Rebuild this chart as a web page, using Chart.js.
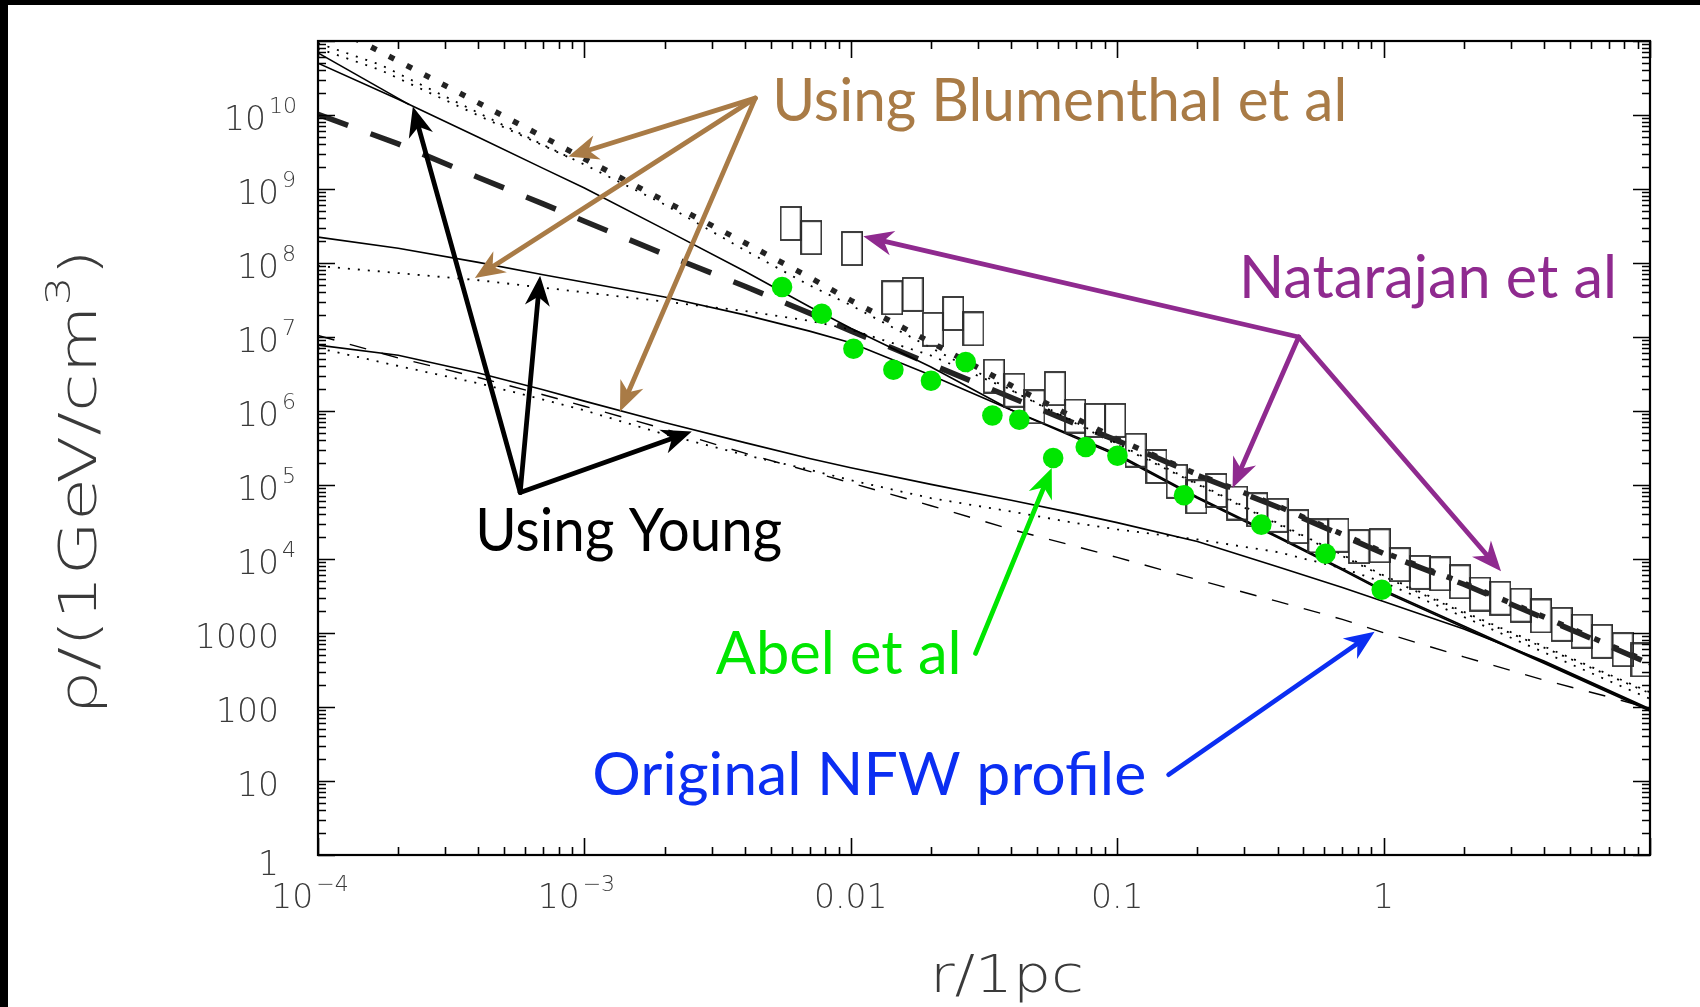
<!DOCTYPE html>
<html>
<head>
<meta charset="utf-8">
<title>Dark matter density profiles</title>
<script src="https://cdn.jsdelivr.net/npm/chart.js@4.4.1/dist/chart.umd.min.js"></script>
<style>
  html, body { margin: 0; padding: 0; background: #fff; }
  #wrap { width: 1700px; height: 1007px; position: relative; }
</style>
</head>
<body>
<div id="wrap"><canvas id="c" width="1700" height="1007"></canvas></div>
<script>
// ---------- data: radius r [pc] and density rho [GeV/cm^3] ----------
const rGrid = [1e-4, 2e-4, 4e-4, 7e-4, 1e-3, 2e-3, 4e-3, 7e-3, 0.01, 0.02, 0.04, 0.07, 0.1, 0.2, 0.4, 0.7, 1, 2, 4, 7, 10];

// adiabatic contraction, Young method (solid)
const youngHiRho  = [5.01e10, 1.63e10, 4.99e9, 1.90e9, 1.03e9, 2.85e8, 7.73e7, 2.56e7, 1.31e7, 3.94e6, 1.03e6, 4.50e5, 2.63e5, 6.87e4, 2.03e4, 7.40e3, 3.80e3, 1.24e3, 403, 163, 91.2];
const youngHi2R   = [1e-4, 2.2e-4];
const youngHi2Rho = [6.9e10, 1.38e10];
const youngMidRho = [2.24e8, 1.58e8, 1.02e8, 6.95e7, 5.50e7, 3.48e7, 1.99e7, 1.20e7, 8.34e6, 3.04e6, 1.03e6, 4.30e5, 2.51e5, 6.61e4, 1.95e4, 7.08e3, 3.63e3, 1.19e3, 389, 157, 88.1];
const youngLoRho  = [7.76e6, 5.68e6, 3.27e6, 1.94e6, 1.36e6, 6.98e5, 3.74e5, 2.28e5, 1.71e5, 1.02e5, 6.22e4, 4.10e4, 3.10e4, 1.72e4, 7.83e3, 4.11e3, 2.67e3, 1.13e3, 417, 168, 94.4];

// adiabatic contraction, Blumenthal method (dotted)
const blumHiR     = [1e-4, 1.71e-4, 2e-4, 4e-4, 7e-4, 1e-3, 2e-3, 4e-3, 7e-3, 0.01, 0.02, 0.04, 0.07, 0.1, 0.2, 0.4, 0.7, 1, 2, 4, 7, 10];
const blumHiRho   = [9.33e10, 4.79e10, 3.64e10, 1.07e10, 3.95e9, 2.14e9, 6.17e8, 1.49e8, 4.99e7, 2.69e7, 7.16e6, 1.92e6, 7.01e5, 3.61e5, 1.05e5, 3.07e4, 1.14e4, 6.01e3, 1.93e3, 658, 276, 158];
const blumHi2R    = [1e-4, 1.71e-4, 5e-4, 8.63e-4];
const blumHi2Rho  = [7.94e10, 4.07e10, 6.79e9, 2.73e9];
const blumMidRho  = [9.12e7, 7.31e7, 5.85e7, 4.65e7, 4.01e7, 3.01e7, 2.25e7, 1.66e7, 1.26e7, 5.62e6, 1.91e6, 6.78e5, 3.48e5, 1.02e5, 2.96e4, 1.10e4, 5.81e3, 1.86e3, 635, 267, 153];
const blumLoRho   = [7.08e6, 4.06e6, 2.37e6, 1.43e6, 1.02e6, 4.84e5, 2.55e5, 1.61e5, 1.16e5, 6.64e4, 4.38e4, 3.05e4, 2.51e4, 1.84e4, 1.24e4, 7.52e3, 4.83e3, 1.65e3, 547, 226, 129];

// original NFW profile (thin dashed)
const nfwRho      = [1.05e7, 5.22e6, 2.84e6, 1.66e6, 1.16e6, 5.71e5, 2.69e5, 1.53e5, 1.07e5, 5.25e4, 2.51e4, 1.48e4, 1.05e4, 5.26e3, 2.67e3, 1.53e3, 1.01e3, 476, 231, 137, 95.5];

// Natarajan et al model curves (thick dashed / thick dotted)
const thickDashRho = [1.02e10, 4.07e9, 1.43e9, 6.30e8, 3.67e8, 1.31e8, 4.85e7, 2.10e7, 1.21e7, 4.28e6, 1.52e6, 6.68e5, 3.98e5, 1.35e5, 5.05e4, 2.08e4, 1.19e4, 4.55e3, 1.59e3, 670, 384];
const thickDotRho  = [1.97e11, 5.36e10, 1.46e10, 5.08e9, 2.56e9, 6.90e8, 1.88e8, 6.41e7, 3.13e7, 8.47e6, 2.21e6, 7.93e5, 4.17e5, 1.39e5, 5.22e4, 2.16e4, 1.23e4, 4.71e3, 1.65e3, 693, 397];

// Natarajan et al binned profile (open boxes)
const boxR   = [0.00594, 0.00710, 0.01009, 0.01429, 0.01706, 0.02032, 0.02421, 0.02884, 0.03443, 0.04111, 0.04887, 0.05834, 0.06950, 0.08260, 0.09817, 0.1172, 0.1403, 0.1671, 0.1982, 0.2355, 0.2818, 0.3350, 0.3999, 0.4775, 0.5689, 0.6761, 0.8072, 0.9661, 1.148, 1.368, 1.629, 1.932, 2.301, 2.742, 3.266, 3.890, 4.656, 5.534, 6.592, 7.889, 9.290];
const boxRho = [3.42e8, 2.20e8, 1.57e8, 3.39e7, 3.76e7, 1.27e7, 2.08e7, 1.29e7, 2.96e6, 1.91e6, 1.14e6, 2.01e6, 8.55e5, 7.46e5, 7.46e5, 2.95e5, 1.78e5, 1.12e5, 6.95e4, 8.43e4, 5.71e4, 4.63e4, 3.89e4, 2.74e4, 2.05e4, 2.09e4, 1.47e4, 1.51e4, 8.38e3, 6.59e3, 6.30e3, 4.92e3, 3.36e3, 2.95e3, 2.38e3, 1.70e3, 1.31e3, 1.06e3, 771, 596, 433];

// Abel et al simulation points (green)
const abelR   = [0.00552, 0.00778, 0.01023, 0.01445, 0.0200, 0.0270, 0.0340, 0.0429, 0.0575, 0.0762, 0.1002, 0.1782, 0.3475, 0.6053, 0.984];
const abelRho = [4.73e7, 2.06e7, 6.93e6, 3.61e6, 2.56e6, 4.59e6, 8.71e5, 7.62e5, 2.32e5, 3.26e5, 2.49e5, 7.28e4, 2.91e4, 1.18e4, 3.85e3];

// tick labels
const xLabelValues = [1e-4, 1e-3, 0.01, 0.1, 1];
const xLabelTexts  = [['10', '\u22124'], ['10', '\u22123'], ['0.01', ''], ['0.1', ''], ['1', '']];
const yLabelValues = [1, 10, 100, 1000, 1e4, 1e5, 1e6, 1e7, 1e8, 1e9, 1e10];
const yLabelTexts  = [['1', ''], ['10', ''], ['100', ''], ['1000', ''], ['10', '4'], ['10', '5'], ['10', '6'], ['10', '7'], ['10', '8'], ['10', '9'], ['10', '10']];

// annotations: label text and arrows, placed in data coordinates
const BROWN = '#a97b46', PURPLE = '#8f2a8f', GREEN = '#00e600', BLUE = '#0b2ef2';
const noteTexts = [
  { text: 'Using Blumenthal et al', color: BROWN,  at: [5.07e-3, 8.32e9], width: 575 },
  { text: 'Using Young',            color: '#000', at: [3.89e-4, 1.27e4], width: 307 },
  { text: 'Abel et al',             color: GREEN,  at: [3.11e-3, 282],    width: 246 },
  { text: 'Natarajan et al',        color: PURPLE, at: [0.2864, 3.39e7],  width: 378 },
  { text: 'Original NFW profile',   color: BLUE,   at: [1.07e-3, 6.55],   width: 554 }
];
const noteArrows = [
  { color: BROWN,  from: [4.38e-3, 1.69e10], to: [8.71e-4, 2.75e9] },
  { color: BROWN,  from: [4.38e-3, 1.69e10], to: [3.88e-4, 6.27e7] },
  { color: BROWN,  from: [4.38e-3, 1.69e10], to: [1.36e-3, 9.86e5] },
  { color: '#000', from: [5.74e-4, 7.94e4],  to: [2.27e-4, 1.30e10] },
  { color: '#000', from: [5.74e-4, 7.94e4],  to: [6.82e-4, 6.73e7] },
  { color: '#000', from: [5.74e-4, 7.94e4],  to: [2.53e-3, 5.30e5] },
  { color: GREEN,  from: [0.0294, 530],      to: [0.0568, 1.70e5] },
  { color: PURPLE, from: [0.480, 1.0e7],     to: [0.01114, 2.29e8] },
  { color: PURPLE, from: [0.480, 1.0e7],     to: [0.271, 9.12e4] },
  { color: PURPLE, from: [0.480, 1.0e7],     to: [2.76, 6.81e3] },
  { color: BLUE,   from: [0.156, 12.2],      to: [0.925, 1042] }
];

// ---------- helpers ----------
const pts = (xs, ys) => xs.map((x, i) => ({ x: x, y: ys[i] }));

function lineSet(label, xs, ys, style) {
  return Object.assign({
    label: label, type: 'scatter', data: pts(xs, ys), showLine: true,
    pointRadius: 0, borderColor: '#000', borderWidth: 1.6, tension: 0,
    clip: 0, order: 5, fill: false, borderCapStyle: 'butt'
  }, style);
}

// open rectangle used for each binned point
const boxGlyph = (() => {
  const c = document.createElement('canvas');
  c.width = 22; c.height = 35;
  const g = c.getContext('2d');
  g.strokeStyle = '#2b2b2b'; g.lineWidth = 1.8;
  g.strokeRect(1, 1, 20.3, 33);
  return c;
})();

function decadeTicks(min, max) {
  const out = [];
  for (let e = Math.round(Math.log10(min)); Math.pow(10, e) <= max * 1.0001; e++) {
    for (let m = 1; m < 10; m++) {
      const v = m * Math.pow(10, e);
      if (v >= min * 0.9999 && v <= max * 1.0001) out.push({ v: v, major: m === 1 });
    }
  }
  return out;
}

const AXIS_FONT = '"DejaVu Sans", sans-serif';
const AXIS_COLOR = '#3a3a3a';

// number with optional superscript; 'anchor' is the x the label hangs from
function drawPower(ctx, base, exp, x, yMid, mode) {
  ctx.save();
  ctx.fillStyle = AXIS_COLOR;
  ctx.textBaseline = 'alphabetic';
  ctx.textAlign = 'left';
  ctx.font = '200 33px ' + AXIS_FONT;
  const wb = ctx.measureText(base).width;
  ctx.font = '200 22px ' + AXIS_FONT;
  const we = exp ? ctx.measureText(exp).width + 3 : 0;
  let x0;
  if (mode === 'baseRight') x0 = x - wb;          // base ends at x, exponent hangs beyond
  else if (mode === 'right') x0 = x - wb - we;    // whole label ends at x
  else x0 = x - (wb + we) / 2;                    // centred
  const baseY = yMid + 12;
  ctx.font = '200 33px ' + AXIS_FONT;
  ctx.fillText(base, x0, baseY);
  if (exp) {
    ctx.font = '200 22px ' + AXIS_FONT;
    ctx.fillText(exp, x0 + wb + 3, baseY - 17);
  }
  ctx.restore();
}

function drawArrow(ctx, x0, y0, x1, y1, color) {
  const ang = Math.atan2(y1 - y0, x1 - x0);
  const L = 30, H = 12.5, N = 21;
  ctx.save();
  ctx.strokeStyle = color; ctx.fillStyle = color;
  ctx.lineWidth = 4.8; ctx.lineCap = 'round';
  ctx.beginPath();
  ctx.moveTo(x0, y0);
  ctx.lineTo(x1 - Math.cos(ang) * N, y1 - Math.sin(ang) * N);
  ctx.stroke();
  ctx.translate(x1, y1); ctx.rotate(ang);
  ctx.beginPath();
  ctx.moveTo(0, 0); ctx.lineTo(-L, -H); ctx.lineTo(-N, 0); ctx.lineTo(-L, H);
  ctx.closePath(); ctx.fill();
  ctx.restore();
}

function drawFitted(ctx, text, x, y, font, targetW) {
  ctx.font = font;
  const w = ctx.measureText(text).width;
  const s = targetW ? targetW / w : 1;
  ctx.save(); ctx.translate(x, y); ctx.scale(s, 1);
  ctx.textAlign = 'left'; ctx.textBaseline = 'alphabetic';
  ctx.fillText(text, 0, 0);
  ctx.restore();
}

// segments: [text, isSuperscript]
function drawSegments(ctx, segs, size, supSize, targetW) {
  const widths = segs.map(s => { ctx.font = '200 ' + (s[1] ? supSize : size) + 'px ' + AXIS_FONT; return ctx.measureText(s[0]).width; });
  const total = widths.reduce((a, b) => a + b, 0);
  const sc = targetW / total;
  ctx.save(); ctx.scale(sc, 1);
  let x = -total / 2;
  segs.forEach((s, i) => {
    ctx.font = '200 ' + (s[1] ? supSize : size) + 'px ' + AXIS_FONT;
    ctx.fillText(s[0], x, s[1] ? -size * 0.5 : 0);
    x += widths[i];
  });
  ctx.restore();
}

const decor = {
  id: 'decor',
  beforeDraw(chart) {
    const ctx = chart.ctx;
    ctx.save();
    ctx.fillStyle = '#fff'; ctx.fillRect(0, 0, chart.width, chart.height);
    ctx.fillStyle = '#000';
    ctx.fillRect(0, 0, chart.width, 5);
    ctx.fillRect(0, 0, 8, chart.height);
    ctx.restore();
  },
  afterDatasetsDraw(chart) {
    const ctx = chart.ctx;
    const xs = chart.scales.x, ys = chart.scales.y;
    const { left, right, top, bottom } = chart.chartArea;

    // tick marks on all four sides, pointing inward
    ctx.save();
    ctx.strokeStyle = '#000'; ctx.lineWidth = 1.6;
    ctx.beginPath();
    decadeTicks(xs.min, xs.max).forEach(t => {
      const p = Math.round(xs.getPixelForValue(t.v)) + 0.5, len = t.major ? 17 : 8;
      ctx.moveTo(p, bottom); ctx.lineTo(p, bottom - len);
      ctx.moveTo(p, top); ctx.lineTo(p, top + len);
    });
    decadeTicks(ys.min, ys.max).forEach(t => {
      const p = Math.round(ys.getPixelForValue(t.v)) + 0.5, len = t.major ? 17 : 8;
      ctx.moveTo(left, p); ctx.lineTo(left + len, p);
      ctx.moveTo(right, p); ctx.lineTo(right - len, p);
    });
    ctx.stroke();
    ctx.lineWidth = 2.2;
    ctx.strokeRect(left, top, right - left, bottom - top);
    ctx.restore();

    // tick labels
    xLabelValues.forEach((v, i) => {
      const t = xLabelTexts[i];
      drawPower(ctx, t[0], t[1], xs.getPixelForValue(v) - (t[1] ? 8 : 0), 896, 'center');
    });
    yLabelValues.forEach((v, i) => {
      const t = yLabelTexts[i];
      const yMid = ys.getPixelForValue(v) + (i === 0 ? 8 : 3);
      if (t[1].length > 1) drawPower(ctx, t[0], t[1], 297, yMid, 'right');
      else drawPower(ctx, t[0], t[1], 279, yMid, 'baseRight');
    });

    // axis titles
    ctx.save();
    ctx.fillStyle = AXIS_COLOR; ctx.textBaseline = 'alphabetic';
    ctx.translate(1007, 992);
    drawSegments(ctx, [['r/1pc', false]], 52, 34, 154);
    ctx.restore();
    ctx.save();
    ctx.fillStyle = AXIS_COLOR; ctx.textBaseline = 'alphabetic';
    ctx.translate(96, 482); ctx.rotate(-Math.PI / 2);
    drawSegments(ctx, [['\u03c1/(1GeV/cm', false], ['3', true], [')', false]], 52, 34, 466);
    ctx.restore();

    // annotation arrows and labels
    noteArrows.forEach(a => {
      drawArrow(ctx,
        xs.getPixelForValue(a.from[0]), ys.getPixelForValue(a.from[1]),
        xs.getPixelForValue(a.to[0]), ys.getPixelForValue(a.to[1]), a.color);
    });
    noteTexts.forEach(n => {
      ctx.save();
      ctx.fillStyle = n.color;
      drawFitted(ctx, n.text, xs.getPixelForValue(n.at[0]), ys.getPixelForValue(n.at[1]), '400 60px Lato, "Open Sans", sans-serif', n.width);
      ctx.restore();
    });
  }
};

const datasets = [
  { label: 'Abel et al', type: 'scatter', data: pts(abelR, abelRho), pointStyle: 'circle',
    pointRadius: 10.3, pointBackgroundColor: GREEN, pointBorderWidth: 0, pointBorderColor: GREEN, order: 0, clip: 0 },
  { label: 'Natarajan et al (binned)', type: 'scatter', data: pts(boxR, boxRho), pointStyle: boxGlyph,
    pointRadius: 10, order: 1, clip: 0 },
  lineSet('Young, high', rGrid, youngHiRho, {}),
  lineSet('Young, high (2)', youngHi2R, youngHi2Rho, {}),
  lineSet('Young, mid', rGrid, youngMidRho, {}),
  lineSet('Young, low', rGrid, youngLoRho, {}),
  lineSet('Blumenthal, high', blumHiR, blumHiRho, { borderWidth: 1.8, borderDash: [2, 8] }),
  lineSet('Blumenthal, high (2)', blumHi2R, blumHi2Rho, { borderWidth: 1.8, borderDash: [2, 8] }),
  lineSet('Blumenthal, mid', rGrid, blumMidRho, { borderWidth: 1.8, borderDash: [2, 8] }),
  lineSet('Blumenthal, low', rGrid, blumLoRho, { borderWidth: 1.8, borderDash: [2, 8] }),
  lineSet('NFW', rGrid, nfwRho, { borderWidth: 1.4, borderDash: [17, 16] }),
  lineSet('Natarajan model', rGrid, thickDashRho, { borderColor: '#232323', borderWidth: 5.5, borderDash: [32, 24] }),
  lineSet('Natarajan model (2)', rGrid, thickDotRho, { borderColor: '#232323', borderWidth: 5.5, borderDash: [6, 14] })
];

new Chart(document.getElementById('c'), {
  type: 'scatter',
  data: { datasets: datasets },
  options: {
    responsive: false,
    animation: false,
    events: [],
    layout: { padding: { left: 318, right: 50, top: 41, bottom: 152 } },
    plugins: { legend: { display: false }, tooltip: { enabled: false } },
    scales: {
      x: { type: 'logarithmic', min: 1e-4, max: 10, display: false },
      y: { type: 'logarithmic', min: 1, max: 1e11, display: false }
    }
  },
  plugins: [decor]
});
</script>
</body>
</html>
